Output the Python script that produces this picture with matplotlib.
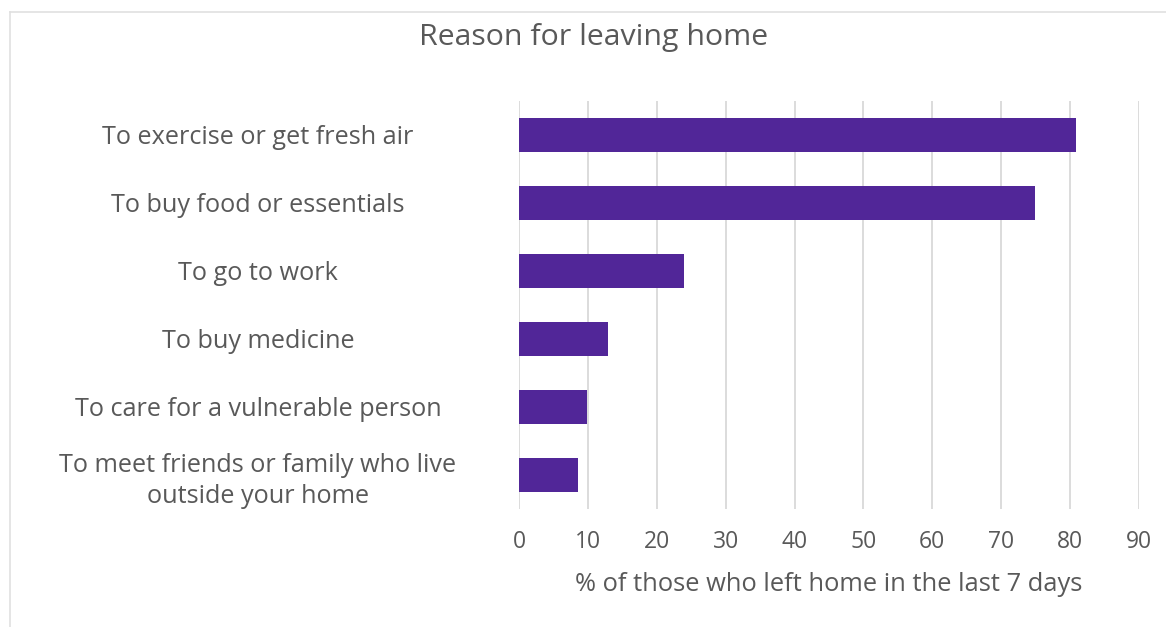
import numpy as np
import matplotlib.pyplot as plt
from matplotlib.lines import Line2D

# data
reasons = [
    'To exercise or get fresh air',
    'To buy food or essentials',
    'To go to work',
    'To buy medicine',
    'To care for a vulnerable person',
    'To meet friends or family who live\noutside your home',
]
percent = [80.8, 74.9, 24.0, 12.9, 9.9, 8.5]
xticks = [0, 10, 20, 30, 40, 50, 60, 70, 80, 90]

bar_color = '#512698'
text_color = '#595959'
grid_color = '#d9d9d9'

plt.rcParams['font.family'] = ['Open Sans', 'DejaVu Sans']

fig = plt.figure(figsize=(11.66, 6.27), dpi=100)
W, H = 1166, 627
ax = fig.add_axes([519 / W, 1 - 509 / H, 620 / W, 408 / H])

y = np.arange(len(reasons))
ax.barh(y, percent, height=0.5, color=bar_color, zorder=3)
ax.set_ylim(len(reasons) - 0.5, -0.5)
ax.set_xlim(0, 90)
ax.set_xticks(xticks)
ax.set_yticks(y)
ax.set_yticklabels(reasons, ha='center', multialignment='center', linespacing=1.3)

ax.grid(axis='x', color=grid_color, lw=1.3, zorder=0)
for s in ax.spines.values():
    s.set_visible(False)
ax.tick_params(axis='y', length=0, pad=188, labelsize=18.2, labelcolor=text_color)
ax.tick_params(axis='x', length=0, pad=15, labelsize=16.5, labelcolor=text_color)
ax.set_xlabel('% of those who left home in the last 7 days', fontsize=18.4,
              color=text_color, labelpad=13)

fig.text(594 / W, 1 - 37 / H, 'Reason for leaving home', ha='center', va='center',
         fontsize=21.8, color=text_color)

# chart frame (only top and left edges visible)
fig.add_artist(Line2D([10 / W, 1], [1 - 12 / H, 1 - 12 / H], color='#e0e0e0', lw=1.2,
                      transform=fig.transFigure))
fig.add_artist(Line2D([10 / W, 10 / W], [0, 1 - 12 / H], color='#e0e0e0', lw=1.2,
                      transform=fig.transFigure))

fig.savefig('out.png', dpi=100, facecolor='white')
